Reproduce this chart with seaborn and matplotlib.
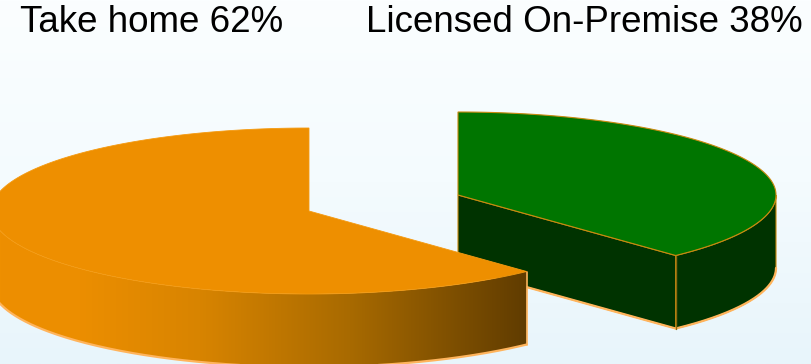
import numpy as np
import matplotlib
matplotlib.use("Agg")
import matplotlib.pyplot as plt
import seaborn as sns
from matplotlib.colors import LinearSegmentedColormap, to_rgb
from matplotlib.patches import Polygon

# ---- data ----
categories = ["Take home", "Licensed On-Premise"]
shares = [62, 38]
top_colors = ["#EE8F00", "#007500"]
side_colors = ["#603C00", "#003300"]

sns.set_theme(style="white")
plt.rcParams["font.family"] = ["Liberation Sans", "DejaVu Sans"]

W, H = 811, 364
fig = plt.figure(figsize=(W / 100, H / 100), dpi=100)
ax = fig.add_axes([0, 0, 1, 1])
ax.set_xlim(0, W)
ax.set_ylim(H, 0)
ax.axis("off")

# background gradient (white to light blue)
bg = LinearSegmentedColormap.from_list("bg", ["#FBFEFF", "#F4FBFE", "#E8F5FB"])
ax.imshow(np.linspace(0, 1, 256).reshape(-1, 1), cmap=bg, aspect="auto",
          extent=[0, W, H, 0], zorder=0)

# geometry (pixel layout)
A, B, D = 318, 83, 73
centers = {0: (309, 211), 1: (458, 195)}

def arc(cx, cy, t0, t1, n=200):
    t = np.radians(np.linspace(t0, t1, n))
    return cx + A * np.cos(t), cy - B * np.sin(t)

fr = np.array(shares) / sum(shares) * 360.0
# slice 1 (green): clockwise from 90
g0, g1 = 90.0, 90.0 - fr[1]
# slice 0 (orange): counter-clockwise from 90
o0, o1 = 90.0, 90.0 + fr[0]

edge = "#C98A10"
fringe = "#FFB45C"

# ---- green slice ----
cx, cy = centers[1]
ex, ey = arc(cx, cy, g1, g1, 1)
rad = [(cx, cy), (ex[0], ey[0]), (ex[0], ey[0] + D), (cx, cy + D)]
ax.add_patch(Polygon(rad, closed=True, fc=side_colors[1], ec=edge, lw=0.8, zorder=2))
xs, ys = arc(cx, cy, g1, 0)
poly = np.column_stack([np.r_[xs, xs[::-1]], np.r_[ys, ys[::-1] + D]])
ax.add_patch(Polygon(poly, closed=True, fc=side_colors[1], ec=edge, lw=0.8, zorder=2))
ax.plot(xs, ys + D, color=fringe, lw=1.6, zorder=2)
ax.plot([ex[0], ex[0]], [ey[0], ey[0] + D], color="#8A6A10", lw=1.0, zorder=3)
ax.plot([cx, ex[0]], [cy + D, ey[0] + D], color=fringe, lw=1.6, zorder=2)
xs, ys = arc(cx, cy, g0, g1)
top = np.column_stack([np.r_[cx, xs], np.r_[cy, ys]])
ax.add_patch(Polygon(top, closed=True, fc=top_colors[1], ec=edge, lw=0.8, zorder=3))

# ---- orange slice ----
cx, cy = centers[0]
xs, ys = arc(cx, cy, 180, o1)
poly = np.column_stack([np.r_[xs, xs[::-1]], np.r_[ys, ys[::-1] + D]])
side = Polygon(poly, closed=True, fc="none", ec="none", zorder=4)
ax.add_patch(side)
stops_x = [0, 80, 200, 350, xs.max()]
stops_c = ["#EE8F00", "#EC8E00", "#D88400", "#A86A00", side_colors[0]]
xx = np.linspace(0, W, 811)
rgb = np.array([to_rgb(c) for c in stops_c])
grad = np.stack([np.interp(xx, stops_x, rgb[:, k]) for k in range(3)], axis=-1)
im = ax.imshow(grad[np.newaxis, :, :], aspect="auto", extent=[0, W, H, 0], zorder=4)
im.set_clip_path(side)
ax.plot(xs, ys + D, color=fringe, lw=1.6, zorder=4)
ax.plot([xs[-1], xs[-1]], [ys[-1], ys[-1] + D], color=fringe, lw=1.2, zorder=4)
xs, ys = arc(cx, cy, o0, o1)
top = np.column_stack([np.r_[cx, xs], np.r_[cy, ys]])
ax.add_patch(Polygon(top, closed=True, fc=top_colors[0], ec="#F59A10", lw=0.6, zorder=5))

# ---- labels ----
label_x = [20, 366]
for cat, val, lx in zip(categories, shares, label_x):
    ax.text(lx, 32, f"{cat} {val}%", fontsize=26.5, color="black",
            ha="left", va="baseline", zorder=6)

fig.savefig("out.png", dpi=100)
